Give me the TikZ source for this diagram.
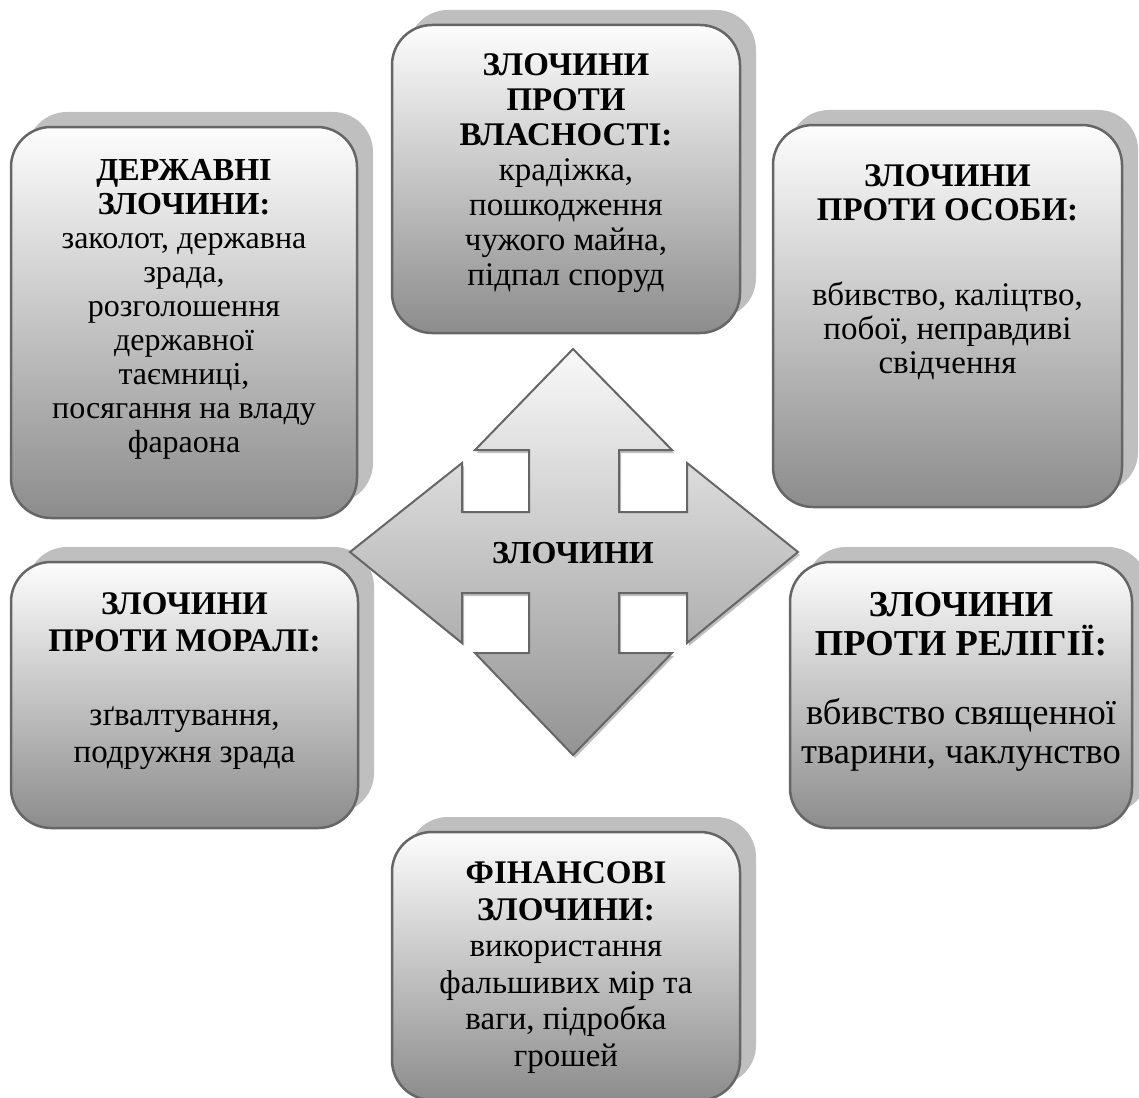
\documentclass[tikz,border=0pt]{standalone}
\usepackage{fontspec}
\setmainfont{Liberation Serif}
\usetikzlibrary{shadows}
\definecolor{edgegray}{HTML}{666666}
\definecolor{shadowgray}{HTML}{BFBFBF}
\definecolor{topgray}{HTML}{FDFDFD}
\definecolor{botgray}{HTML}{8C8C8C}
\definecolor{arrtop}{HTML}{F9F9F9}
\definecolor{arrbot}{HTML}{939393}
\tikzset{
  box/.style={draw=edgegray, line width=2.5pt, rounded corners=40pt,
    top color=topgray, bottom color=botgray, inner sep=0pt,
    general shadow={fill=shadowgray, shadow xshift=16pt, shadow yshift=15pt}},
  boxtext/.style={anchor=north, align=center, inner sep=0pt,
    font=\fontsize{33}{36.5}\selectfont},
  crossarrow/.style={draw=edgegray, line width=2pt, top color=arrtop, bottom color=arrbot,
    general shadow={fill=shadowgray, shadow xshift=2pt, shadow yshift=-3pt}},
}
\begin{document}
\begin{tikzpicture}[x=1pt,y=-1pt]
\useasboundingbox (0,0) rectangle (1139,1097);

% boxes
\node[box, minimum width=346pt, minimum height=391pt] (b1) at (184,322.5) {};
\node[box, minimum width=348pt, minimum height=308pt] (b2) at (566,179) {};
\node[box, minimum width=349pt, minimum height=382pt] (b3) at (947.5,316) {};
\node[box, minimum width=347pt, minimum height=266pt] (b4) at (184.5,695) {};
\node[box, minimum width=342pt, minimum height=266pt] (b5) at (961,695) {};
\node[box, minimum width=348pt, minimum height=268pt] (b6) at (566,966) {};

% central cross arrow
\path[crossarrow] (573,349) -- (672,450) -- (619,450) -- (619,512) -- (687,512)
  -- (687,463) -- (798,552) -- (687,643) -- (687,593) -- (619,593) -- (619,653)
  -- (672,653) -- (573,755) -- (475,653) -- (529,653) -- (529,593) -- (462,593)
  -- (462,643) -- (350,552) -- (462,463) -- (462,512) -- (529,512) -- (529,450)
  -- (475,450) -- cycle;
\node[font=\fontsize{32}{36}\selectfont\bfseries, inner sep=0pt] (c) at (573,553) {ЗЛОЧИНИ};

% texts
\node[boxtext, font=\fontsize{32}{34}\selectfont] (t1) at ([yshift=-33pt]b1.north) {\textbf{ДЕРЖАВНІ}\\\textbf{ЗЛОЧИНИ:}\\заколот, державна\\зрада,\\розголошення\\державної\\таємниці,\\посягання на владу\\фараона};
\node[boxtext, font=\fontsize{33}{35}\selectfont] (t2) at ([yshift=-30pt]b2.north) {\textbf{ЗЛОЧИНИ}\\\textbf{ПРОТИ}\\\textbf{ВЛАСНОСТІ:}\\крадіжка,\\пошкодження\\чужого майна,\\підпал споруд};
\node[boxtext, font=\fontsize{33}{34}\selectfont] (t3) at ([yshift=-41pt]b3.north) {\textbf{ЗЛОЧИНИ}\\\textbf{ПРОТИ ОСОБИ:}\\[51pt]вбивство, каліцтво,\\побої, неправдиві\\свідчення};
\node[boxtext] (t4) at ([yshift=-32pt]b4.north) {\textbf{ЗЛОЧИНИ}\\\textbf{ПРОТИ МОРАЛІ:}\\[38pt]зґвалтування,\\подружня зрада};
\node[boxtext, font=\fontsize{36.5}{39}\selectfont] (t5) at ([yshift=-31pt]b5.north) {\textbf{ЗЛОЧИНИ}\\\textbf{ПРОТИ РЕЛІГІЇ:}\\[30pt]вбивство священної\\тварини, чаклунство};
\node[boxtext] (t6) at ([yshift=-31pt]b6.north) {\textbf{ФІНАНСОВІ}\\\textbf{ЗЛОЧИНИ:}\\використання\\фальшивих мір та\\ваги, підробка\\грошей};
\end{tikzpicture}
\end{document}
